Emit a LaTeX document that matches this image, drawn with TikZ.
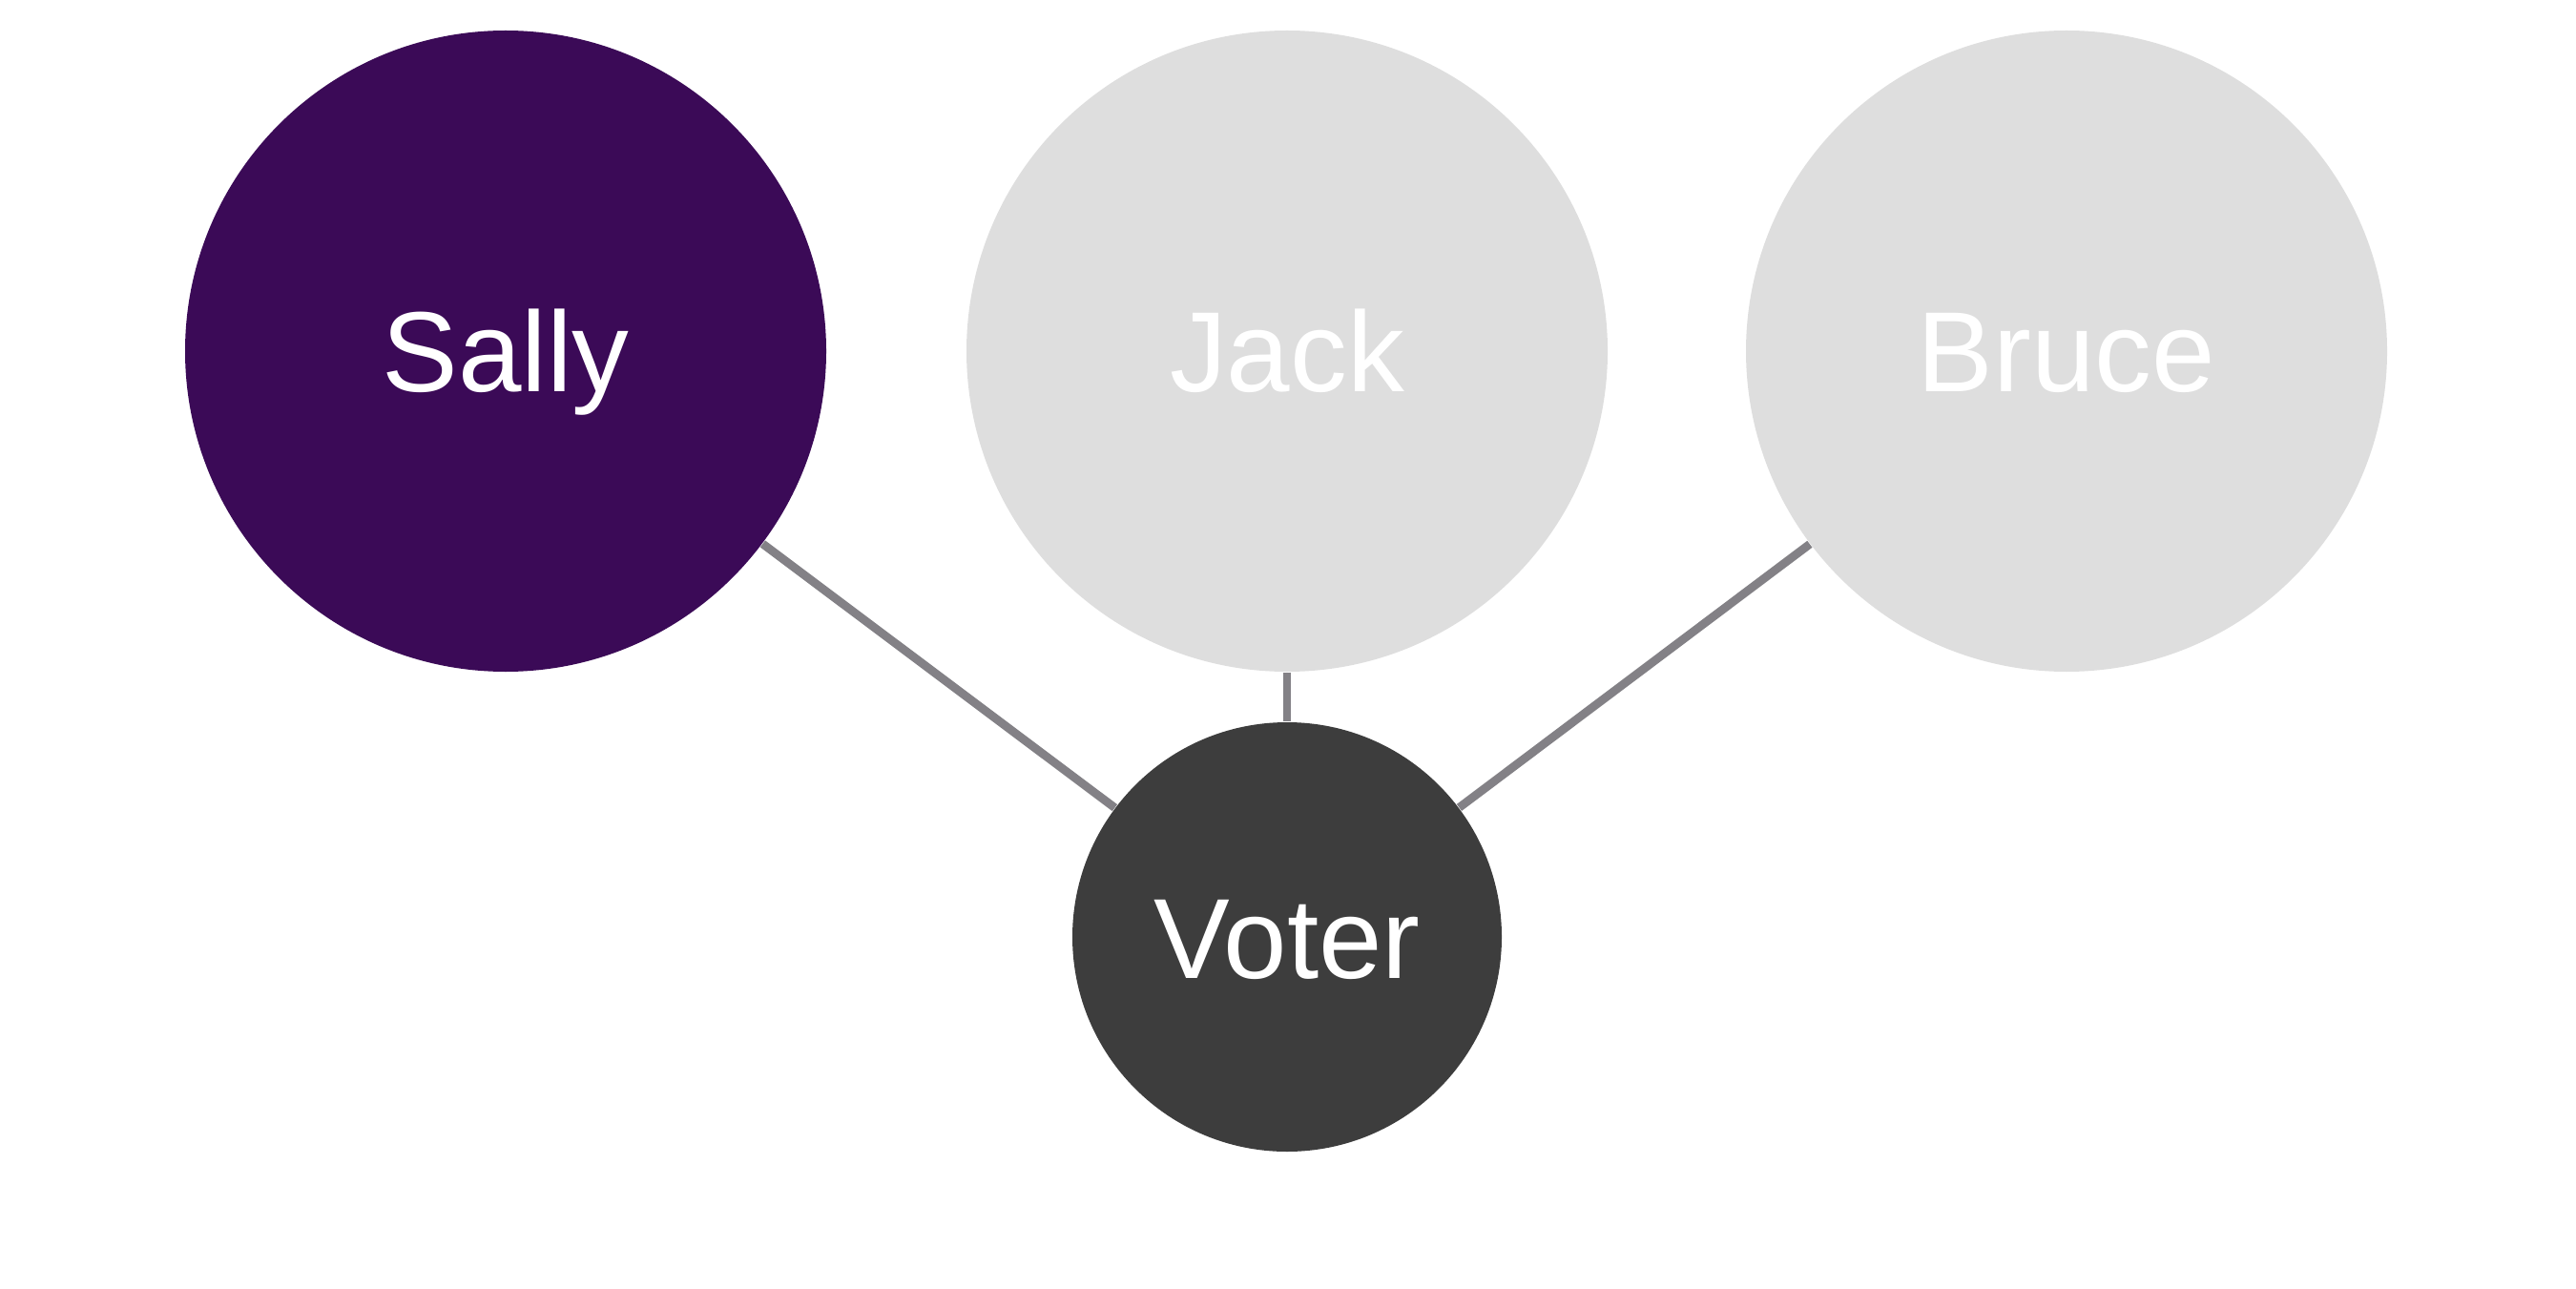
\documentclass[tikz,border=0pt]{standalone}
\usepackage{fontspec}
\setmainfont{Liberation Sans}
\definecolor{sallycol}{HTML}{3B0A57}
\definecolor{idlecol}{HTML}{DEDEDE}
\definecolor{votercol}{HTML}{3D3D3D}
\definecolor{linkcol}{HTML}{838186}
\tikzset{
  person/.style={circle, fill=idlecol, text=white, minimum size=6.72cm, inner sep=0pt,
    text height=0.86cm, text depth=0pt, font=\fontsize{34}{40}\selectfont},
  voterdot/.style={person, fill=votercol, minimum size=4.5cm},
  link/.style={draw=linkcol, line width=2.5pt}
}
\begin{document}
\begin{tikzpicture}
\useasboundingbox (0,0) rectangle (27,13.5);
% candidates
\node[person, fill=sallycol] (sally) at (5.30,9.82) {Sally};
\node[person] (jack) at (13.49,9.82) {Jack};
\node[person] (bruce) at (21.66,9.82) {Bruce};
% voter
\node[voterdot] (voter) at (13.49,3.68) {Voter};
\foreach \c in {sally,jack,bruce} \draw[link] (\c) -- (voter);
\end{tikzpicture}
\end{document}
